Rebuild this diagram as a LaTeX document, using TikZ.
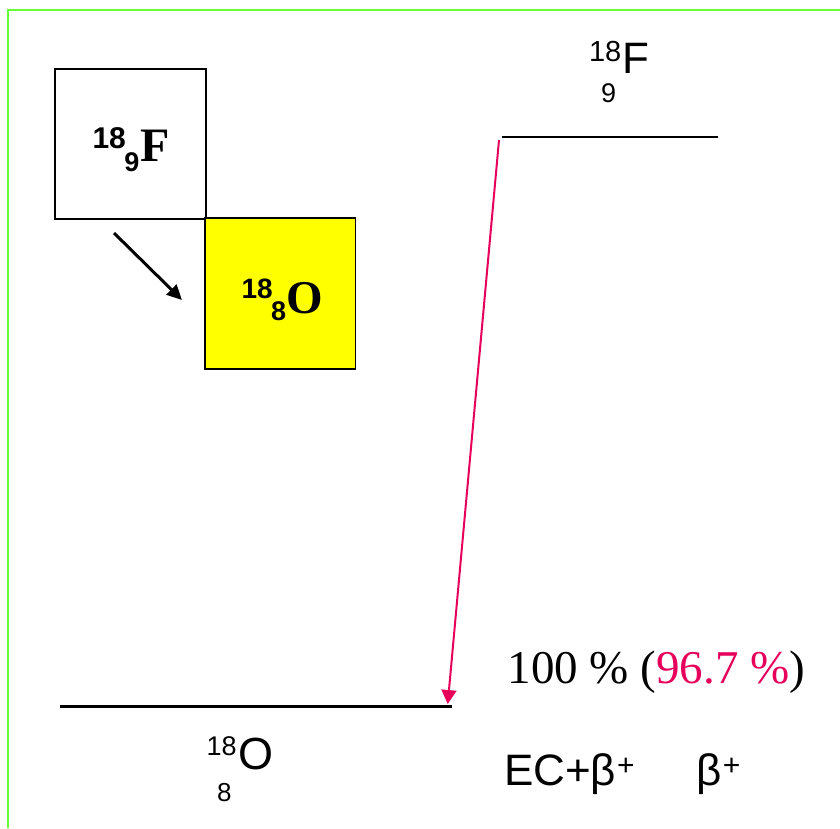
\documentclass[tikz,border=0pt]{standalone}
\usepackage{fontspec}
\setmainfont{Liberation Serif}
\newfontfamily\arialf{Liberation Sans}
\usetikzlibrary{arrows.meta}
\definecolor{frameGreen}{RGB}{102,255,51}
\definecolor{decayPink}{RGB}{230,0,92}
\definecolor{boxYellow}{RGB}{255,255,0}
\newcommand{\bplus}{\raisebox{9.7pt}{\fontsize{30}{30}\selectfont +}}
\tikzset{
  lbl/.style={inner sep=0pt, outer sep=0pt, anchor=base west},
  nuclbox/.style={draw=black, line width=1.5pt},
  level/.style={draw=black, line width=2.6pt},
}
\begin{document}
\begin{tikzpicture}[x=1pt,y=-1pt]
\useasboundingbox (0,0) rectangle (840,828);
% frame
\draw[frameGreen, line width=2.8pt] (8,828) -- (8,10) -- (840,10);
% boxes
\draw[nuclbox, fill=white] (55,69) rectangle (206,219);
\draw[nuclbox, fill=boxYellow] (205,218) rectangle (355.5,369);
\node[lbl] (boxF) at (92.5,161.7) {\arialf\bfseries\fontsize{30}{30}\selectfont\raisebox{13.4pt}{18}\kern-1.5pt\raisebox{-10pt}{\fontsize{27}{27}\selectfont 9}\kern1pt{\rmfamily\bfseries\fontsize{48}{48}\selectfont F}};
\node[lbl] (boxO) at (241.5,313) {\arialf\bfseries\fontsize{28}{28}\selectfont\raisebox{15pt}{18}\kern-1.5pt\raisebox{-7pt}{\fontsize{27}{27}\selectfont 8}\kern0pt{\rmfamily\bfseries\fontsize{47}{47}\selectfont O}};
\coordinate (a1) at (114,233);
\coordinate (a2) at (182,300);
\draw[line width=3pt, -{Triangle[length=15pt,width=14pt]}] (a1) -- (a2);
% levels
\coordinate (t1) at (502,137);
\coordinate (t2) at (718,137);
\coordinate (b1) at (60,706);
\coordinate (b2) at (452,706);
\draw[level, line width=2.2pt] (t1) -- (t2);
\draw[level, line width=3pt] (b1) -- (b2);
% decay arrow
\coordinate (d1) at (499,140);
\coordinate (d2) at (447.7,704);
\draw[decayPink, line width=2pt, -{Triangle[length=14pt,width=15pt]}] (d1) -- (d2);
% labels
\node[lbl] (topF) at (589,73.3) {\arialf\fontsize{29}{29}\selectfont\raisebox{11.6pt}{18}\kern1pt{\fontsize{44}{44}\selectfont F}};
\node[lbl] (topZ) at (601,102.7) {\arialf\fontsize{27}{27}\selectfont 9};
\node[lbl] (botO) at (206.5,769.5) {\arialf\fontsize{27}{27}\selectfont\raisebox{14.5pt}{18}\kern1.5pt{\fontsize{45}{45}\selectfont O}};
\node[lbl] (botZ) at (217,801.7) {\arialf\fontsize{26}{26}\selectfont 8};
\node[lbl] (ratio) at (507.5,683.3) {\fontsize{47}{47}\selectfont 100 \% (\textcolor{decayPink}{96.7 \%})};
\node[lbl] (mode) at (504,785) {\arialf\fontsize{44}{44}\selectfont EC+β\kern1pt\bplus\hspace{62pt}β\kern1pt\bplus};
\end{tikzpicture}
\end{document}
